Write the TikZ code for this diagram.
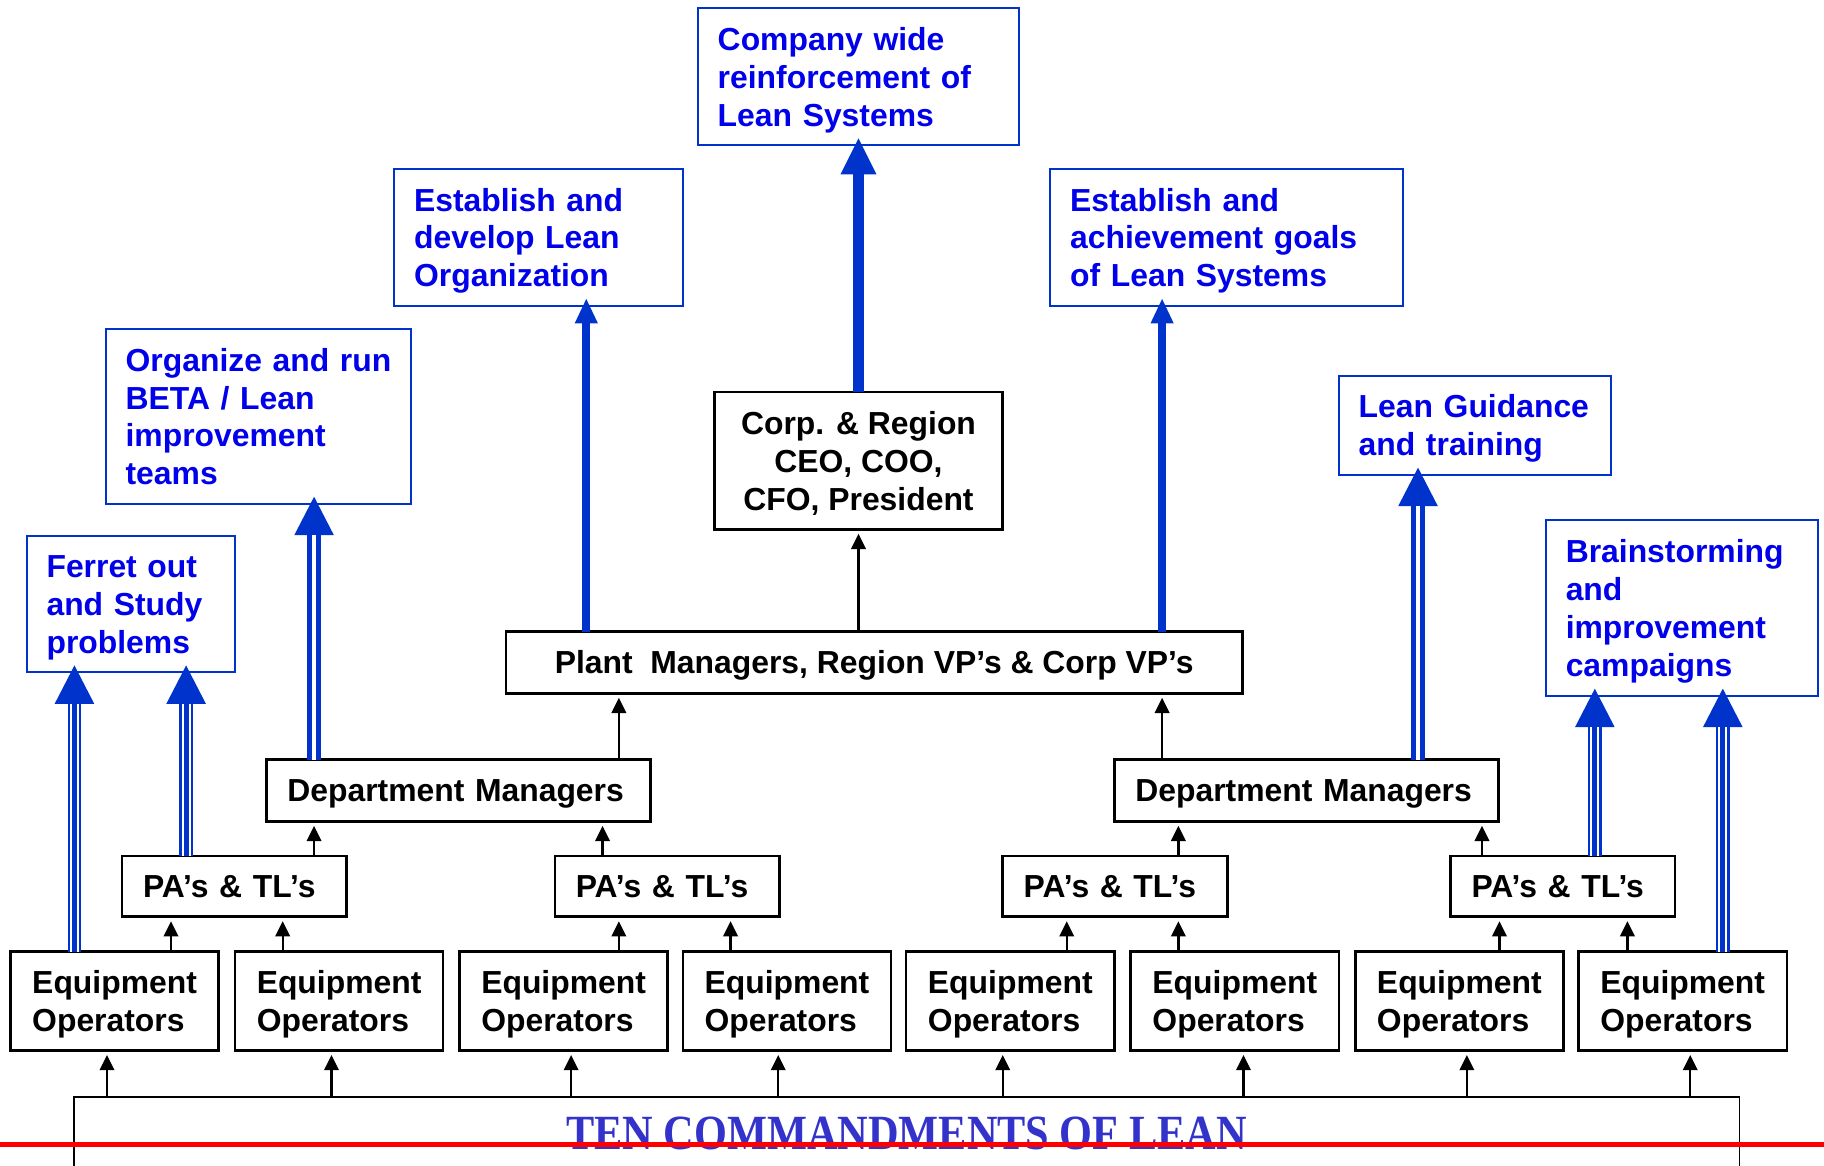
\documentclass[tikz,border=0pt]{standalone}
\usepackage{fontspec}
\setmainfont{Liberation Sans}
\newfontfamily\tenfont{Liberation Serif}
\usepackage{graphicx}
\usetikzlibrary{arrows.meta}
\definecolor{tblue}{RGB}{0,0,235}
\definecolor{lblue}{RGB}{0,51,204}
\definecolor{tenblue}{RGB}{51,51,204}
\newcommand\bigfont{\fontsize{27.4}{32.5}\selectfont\bfseries}
\newcommand\nodepth[1]{\raisebox{0pt}[\height][0pt]{#1}}
\begin{document}
\begin{tikzpicture}[x=1pt,y=-1pt,
  bbox/.style={draw=black, line width=2.2pt, fill=white, inner sep=0pt, outer sep=0pt, anchor=north west, font=\bigfont},
  eqbox/.style={bbox, minimum width=179pt, minimum height=85pt, align=left},
  pabox/.style={bbox, minimum width=193pt, minimum height=52pt, inner xsep=18pt, text width=157pt, align=left, text height=19.7pt, text depth=0pt},
  dmbox/.style={bbox, minimum width=330pt, minimum height=53pt, inner xsep=18pt, text width=294pt, align=left, text height=19.7pt, text depth=0pt},
  bluebox/.style={draw=lblue, line width=1.8pt, fill=white, inner xsep=17pt, inner ysep=0pt, outer sep=0pt, anchor=north west, font=\bigfont, text=tblue, align=left},
  blk/.style={draw=black, line width=2pt, -{Triangle[length=13pt,width=13pt,line width=0pt]}, shorten >=4pt},
  thickone/.style={draw=lblue, line width=10pt, -{Triangle[length=31pt,width=31pt,line width=0pt]}, shorten >=-6pt},
  thicktwo/.style={draw=lblue, line width=7pt, -{Triangle[length=21pt,width=20pt,line width=0pt]}, shorten >=-6pt},
  tri/.style={draw=lblue, line width=11.7pt, -{Triangle[length=33pt,width=34pt,line width=0pt]}, shorten >=-6pt,
    postaction={draw=white, line width=7.7pt, arrows=-, shorten >=27pt},
    postaction={draw=lblue, line width=4.3pt, arrows=-, shorten >=27pt}},
  dbl/.style={draw=lblue, line width=12.6pt, -{Triangle[length=33pt,width=34pt,line width=0pt]}, shorten >=-6pt,
    postaction={draw=white, line width=3.4pt, arrows=-, shorten >=27pt}}
]
\useasboundingbox (0,0) rectangle (1568,1001.5);

% bottom bar
\node[draw=black, line width=1pt, inner sep=0pt, outer sep=0pt, anchor=north west,
      minimum width=1431.4pt, minimum height=62pt, text=tenblue] (ten) at (63.6,943)
  {\resizebox{585pt}{28pt}{\tenfont\bfseries TEN COMMANDMENTS OF LEAN}};
\draw[line width=2.2pt] (ten.north west) -- (ten.north east);
\draw[red, line width=4pt] (0,984) -- (1568,984);

% equipment operators
\node[eqbox] (eq1) at (9,818) {Equipment\\\nodepth{Operators}};
\node[eqbox] (eq2) at (202,818) {Equipment\\\nodepth{Operators}};
\node[eqbox] (eq3) at (395,818) {Equipment\\\nodepth{Operators}};
\node[eqbox] (eq4) at (587,818) {Equipment\\\nodepth{Operators}};
\node[eqbox] (eq5) at (779,818) {Equipment\\\nodepth{Operators}};
\node[eqbox] (eq6) at (972,818) {Equipment\\\nodepth{Operators}};
\node[eqbox] (eq7) at (1165,818) {Equipment\\\nodepth{Operators}};
\node[eqbox] (eq8) at (1357,818) {Equipment\\\nodepth{Operators}};

% PA's & TL's
\node[pabox] (pa1) at (105,736) {PA’s \& TL’s};
\node[pabox] (pa2) at (477,736) {PA’s \& TL’s};
\node[pabox] (pa3) at (862,736) {PA’s \& TL’s};
\node[pabox] (pa4) at (1247,736) {PA’s \& TL’s};

% department managers
\node[dmbox] (dm1) at (229,653) {Department~Managers};
\node[dmbox] (dm2) at (958,653) {Department~Managers};

% plant managers
\node[bbox, minimum width=633pt, minimum height=53pt, text height=19.7pt, text depth=0pt] (plant) at (435,543)
  {Plant~~Managers, Region VP’s \& Corp VP’s};

% corp
\node[bbox, minimum width=248pt, minimum height=118pt, align=center] (corp) at (614,337)
  {Corp. \& Region\\CEO, COO,\\\nodepth{CFO, President}};

% blue boxes
\node[bluebox, minimum width=276pt, minimum height=118pt, text width=242pt] (company) at (600,7)
  {Company~wide\\reinforcement~of\\\nodepth{Lean~Systems}};
\node[bluebox, minimum width=248pt, minimum height=118pt, text width=214pt] (estdev) at (339,145)
  {Establish~and\\develop~Lean\\\nodepth{Organization}};
\node[bluebox, minimum width=303pt, minimum height=118pt, text width=269pt] (estach) at (903,145)
  {Establish~and\\achievement~goals\\\nodepth{of~Lean~Systems}};
\node[bluebox, minimum width=262pt, minimum height=150pt, text width=228pt] (organize) at (91,283)
  {Organize~and~run\\BETA~/~Lean\\improvement\\\nodepth{teams}};
\node[bluebox, minimum width=179pt, minimum height=117pt, text width=145pt] (ferret) at (23,461)
  {Ferret~out\\and~Study\\\nodepth{problems}};
\node[bluebox, minimum width=234pt, minimum height=85pt, text width=200pt] (guidance) at (1151,323)
  {Lean~Guidance\\\nodepth{and~training}};
\node[bluebox, minimum width=234pt, minimum height=151pt, text width=200pt] (brain) at (1329,447)
  {Brainstorming\\and\\improvement\\\nodepth{campaigns}};

% black arrows: bar -> equipment
\draw[blk] ([xshift=-687.3pt]ten.north) -- ([xshift=-6.5pt]eq1.south);
\draw[blk] ([xshift=-494.3pt]ten.north) -- ([xshift=-6.5pt]eq2.south);
\draw[blk] ([xshift=-288.3pt]ten.north) -- ([xshift=6.5pt]eq3.south);
\draw[blk] ([xshift=-110.3pt]ten.north) -- ([xshift=-7.5pt]eq4.south);
\draw[blk] ([xshift=82.7pt]ten.north) -- ([xshift=-6.5pt]eq5.south);
\draw[blk] ([xshift=289.7pt]ten.north) -- ([xshift=7.5pt]eq6.south);
\draw[blk] ([xshift=481.7pt]ten.north) -- ([xshift=6.5pt]eq7.south);
\draw[blk] ([xshift=673.7pt]ten.north) -- ([xshift=6.5pt]eq8.south);

% equipment -> PA's
\draw[blk] ([xshift=48.5pt]eq1.north) -- ([xshift=-54.5pt]pa1.south);
\draw[blk] ([xshift=-48.5pt]eq2.north) -- ([xshift=41.5pt]pa1.south);
\draw[blk] ([xshift=47.5pt]eq3.north) -- ([xshift=-41.5pt]pa2.south);
\draw[blk] ([xshift=-48.5pt]eq4.north) -- ([xshift=54.5pt]pa2.south);
\draw[blk] ([xshift=48.5pt]eq5.north) -- ([xshift=-41.5pt]pa3.south);
\draw[blk] ([xshift=-48.5pt]eq6.north) -- ([xshift=54.5pt]pa3.south);
\draw[blk] ([xshift=34.5pt]eq7.north) -- ([xshift=-54.5pt]pa4.south);
\draw[blk] ([xshift=-47.5pt]eq8.north) -- ([xshift=55.5pt]pa4.south);

% PA's -> department managers
\draw[blk] ([xshift=68.5pt]pa1.north) -- ([xshift=-124pt]dm1.south);
\draw[blk] ([xshift=-55.5pt]pa2.north) -- ([xshift=124pt]dm1.south);
\draw[blk] ([xshift=54.5pt]pa3.north) -- ([xshift=-110pt]dm2.south);
\draw[blk] ([xshift=-69.5pt]pa4.north) -- ([xshift=151pt]dm2.south);

% department managers -> plant
\draw[blk] ([xshift=138pt]dm1.north) -- ([xshift=-219.5pt]plant.south);
\draw[blk] ([xshift=-124pt]dm2.north) -- ([xshift=247.5pt]plant.south);

% plant -> corp
\draw[blk] ([xshift=-13.5pt]plant.north) -- (corp.south);

% blue arrows
\draw[thickone] (corp.north) -- (company.south);
\draw[thicktwo] ([xshift=-247.5pt]plant.north) -- ([xshift=41pt]estdev.south);
\draw[thicktwo] ([xshift=247.5pt]plant.north) -- ([xshift=-55.5pt]estach.south);
\draw[tri] ([xshift=-34.5pt]eq1.north) -- ([xshift=-48.5pt]ferret.south);
\draw[tri] ([xshift=-41.5pt]pa1.north) -- ([xshift=47.5pt]ferret.south);
\draw[dbl] ([xshift=-124pt]dm1.north) -- ([xshift=48pt]organize.south);
\draw[dbl] ([xshift=96pt]dm2.north) -- ([xshift=-49pt]guidance.south);
\draw[tri] ([xshift=27.5pt]pa4.north) -- ([xshift=-75pt]brain.south);
\draw[tri] ([xshift=34.5pt]eq8.north) -- ([xshift=35pt]brain.south);
\end{tikzpicture}
\end{document}
